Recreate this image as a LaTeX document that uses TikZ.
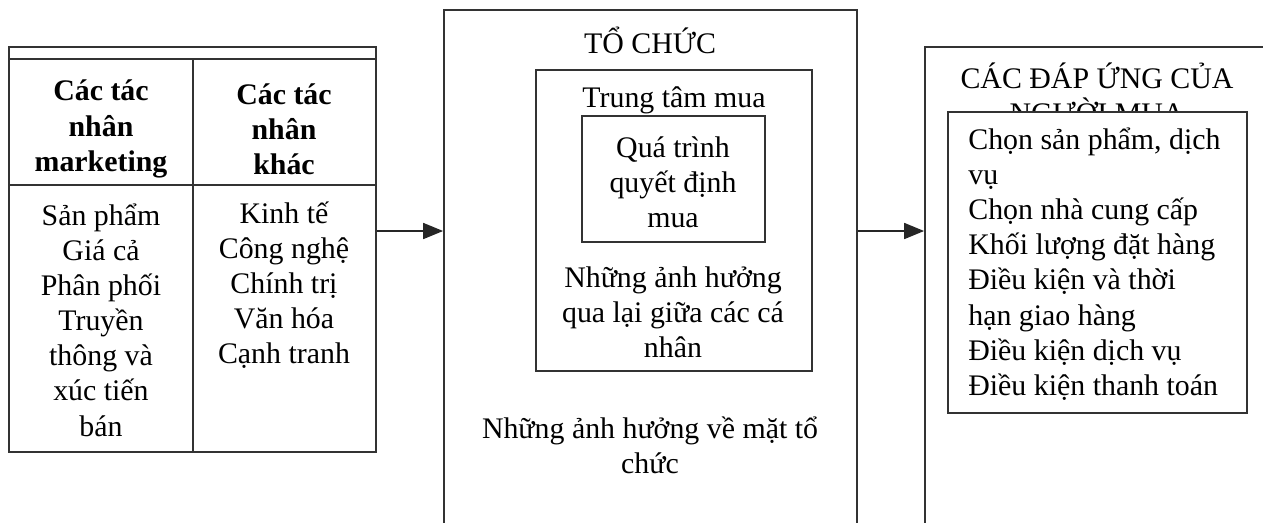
\documentclass[tikz,border=0pt]{standalone}
\usepackage{fontspec}
\setmainfont{Liberation Serif}
\usetikzlibrary{fit,arrows.meta}

\begin{document}
\begin{tikzpicture}[x=0.02cm, y=-0.02cm,
	khung/.style={draw=black!80, line width=1pt, inner sep=0pt},
	chu/.style={font=\fontsize{17}{20}\selectfont, align=center, inner sep=0pt},
	muiten/.style={draw=black!85, line width=1pt, -{Triangle[length=4mm, width=3.2mm]}}]
	\useasboundingbox (0,0) rectangle (1263,522);
	\clip (0,0) rectangle (1263,522);
	
	% bang cac tac nhan
	\path node[khung, fit={(9,47) (376,452)}] (bang){}
	(101,129) node[chu, font=\fontsize{17}{20}\selectfont\bfseries] (h1){Các tác\\nhân\\marketing}
	(284,129) node[chu, font=\fontsize{17}{20}\selectfont\bfseries] (h2){Các tác\\nhân\\khác}
	(101,320) node[chu] (c1){Sản phẩm\\Giá cả\\Phân phối\\Truyền\\thông và\\xúc tiến\\bán}
	(284,285) node[chu] (c2){Kinh tế\\Công nghệ\\Chính trị\\Văn hóa\\Cạnh tranh};
	\draw[black!80, line width=1pt] (9,59) -- (376,59) (9,185) -- (376,185) (193,59) -- (193,452);
	
	% to chuc
	\path node[khung, fit={(444,10) (857,560)}] (tochuc){}
	(650,40) node[chu] (t0){TỔ CHỨC}
	node[khung, fit={(536,70) (812,371)}] (trungtam){}
	(674,100) node[chu] (t1){Trung tâm mua}
	node[khung, fit={(582,116) (765,242)}] (quatrinh){}
	(673,182) node[chu] (t2){Quá trình\\quyết định\\mua}
	(673,312) node[chu] (t3){Những ảnh hưởng\\qua lại giữa các cá\\nhân}
	(650,445) node[chu] (t4){Những ảnh hưởng về mặt tổ\\chức};
	
	% dap ung
	\path node[khung, fit={(925,47) (1300,600)}] (dapung){}
	(1097,93) node[chu] (d0){CÁC ĐÁP ỨNG CỦA\\NGƯỜI MUA}
	node[khung, fill=white, fit={(948,112) (1247,413)}] (luachon){}
	(968,264) node[chu, anchor=west, align=left] (d1){Chọn sản phẩm, dịch\\vụ\\Chọn nhà cung cấp\\Khối lượng đặt hàng\\Điều kiện và thời\\hạn giao hàng\\Điều kiện dịch vụ\\Điều kiện thanh toán};
	
	\coordinate (a1) at (bang.east |- 0,231);
	\coordinate (a2) at (tochuc.east |- 0,231);
	\draw[muiten] (a1) -- (a1 -| tochuc.west);
	\draw[muiten] (a2) -- (a2 -| dapung.west);
\end{tikzpicture}
\end{document}
